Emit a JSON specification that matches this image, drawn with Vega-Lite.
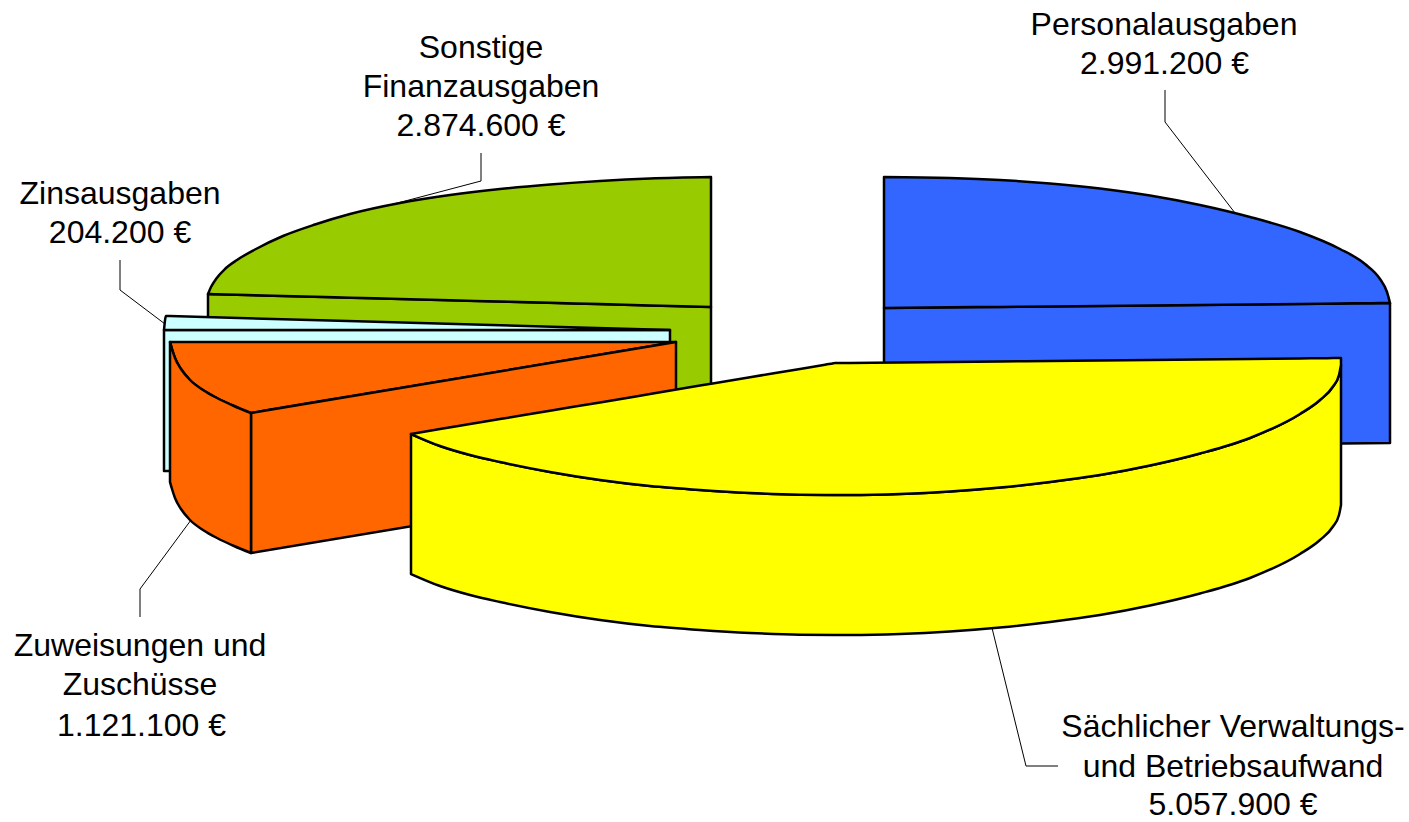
{"$schema":"https://vega.github.io/schema/vega-lite/v6.json","width":1409,"height":822,"padding":0,"autosize":"none","background":"white","config":{"view":{"stroke":null}},
"layer":[
{"data":{"values":[
{"face":"01","s":"Personalausgaben","x":884,"y":308,"y2":448},{"face":"01","s":"Personalausgaben","x":1390,"y":303,"y2":443},
{"face":"02","s":"Personalausgaben","x":884,"y":177,"y2":308},{"face":"02","s":"Personalausgaben","x":950,"y":178,"y2":307.3},{"face":"02","s":"Personalausgaben","x":1000,"y":180,"y2":306.9},{"face":"02","s":"Personalausgaben","x":1050,"y":183.5,"y2":306.4},{"face":"02","s":"Personalausgaben","x":1100,"y":188.5,"y2":305.9},{"face":"02","s":"Personalausgaben","x":1150,"y":195.5,"y2":305.4},{"face":"02","s":"Personalausgaben","x":1200,"y":205,"y2":304.9},{"face":"02","s":"Personalausgaben","x":1250,"y":217,"y2":304.4},{"face":"02","s":"Personalausgaben","x":1300,"y":232,"y2":303.9},{"face":"02","s":"Personalausgaben","x":1340,"y":249,"y2":303.5},{"face":"02","s":"Personalausgaben","x":1365,"y":264,"y2":303.2},{"face":"02","s":"Personalausgaben","x":1380,"y":279,"y2":303.1},{"face":"02","s":"Personalausgaben","x":1387,"y":292,"y2":303},{"face":"02","s":"Personalausgaben","x":1390,"y":303,"y2":303},
{"face":"03","s":"Sonstige Finanzausgaben","x":208,"y":294,"y2":434},{"face":"03","s":"Sonstige Finanzausgaben","x":711,"y":307,"y2":447},
{"face":"04","s":"Sonstige Finanzausgaben","x":208,"y":294,"y2":294},{"face":"04","s":"Sonstige Finanzausgaben","x":211,"y":287,"y2":294.1},{"face":"04","s":"Sonstige Finanzausgaben","x":216,"y":279,"y2":294.2},{"face":"04","s":"Sonstige Finanzausgaben","x":225,"y":269,"y2":294.4},{"face":"04","s":"Sonstige Finanzausgaben","x":237,"y":260,"y2":294.7},{"face":"04","s":"Sonstige Finanzausgaben","x":255,"y":249.5,"y2":295.2},{"face":"04","s":"Sonstige Finanzausgaben","x":283,"y":236,"y2":295.9},{"face":"04","s":"Sonstige Finanzausgaben","x":315,"y":224.5,"y2":296.8},{"face":"04","s":"Sonstige Finanzausgaben","x":350,"y":214,"y2":297.7},{"face":"04","s":"Sonstige Finanzausgaben","x":400,"y":203,"y2":299},{"face":"04","s":"Sonstige Finanzausgaben","x":450,"y":195,"y2":300.3},{"face":"04","s":"Sonstige Finanzausgaben","x":500,"y":189,"y2":301.5},{"face":"04","s":"Sonstige Finanzausgaben","x":550,"y":184.5,"y2":302.8},{"face":"04","s":"Sonstige Finanzausgaben","x":600,"y":181,"y2":304.1},{"face":"04","s":"Sonstige Finanzausgaben","x":650,"y":178.5,"y2":305.4},{"face":"04","s":"Sonstige Finanzausgaben","x":711,"y":177,"y2":307},
{"face":"05","s":"Zinsausgaben","x":164,"y":330,"y2":471},{"face":"05","s":"Zinsausgaben","x":670,"y":330,"y2":471},
{"face":"06","s":"Zinsausgaben","x":164,"y":330,"y2":330},{"face":"06","s":"Zinsausgaben","x":166,"y":316,"y2":330},{"face":"06","s":"Zinsausgaben","x":170,"y":316.1,"y2":330},{"face":"06","s":"Zinsausgaben","x":420,"y":323,"y2":330},{"face":"06","s":"Zinsausgaben","x":670,"y":330,"y2":330},
{"face":"07","s":"Zuweisungen und Zuschüsse","x":170,"y":342,"y2":342},{"face":"07","s":"Zuweisungen und Zuschüsse","x":172,"y":342,"y2":349},{"face":"07","s":"Zuweisungen und Zuschüsse","x":175,"y":342,"y2":358},{"face":"07","s":"Zuweisungen und Zuschüsse","x":181,"y":342,"y2":369},{"face":"07","s":"Zuweisungen und Zuschüsse","x":190,"y":342,"y2":380},{"face":"07","s":"Zuweisungen und Zuschüsse","x":203,"y":342,"y2":390},{"face":"07","s":"Zuweisungen und Zuschüsse","x":217,"y":342,"y2":398},{"face":"07","s":"Zuweisungen und Zuschüsse","x":234,"y":342,"y2":406},{"face":"07","s":"Zuweisungen und Zuschüsse","x":251,"y":342,"y2":413},{"face":"07","s":"Zuweisungen und Zuschüsse","x":256,"y":342,"y2":412.2},{"face":"07","s":"Zuweisungen und Zuschüsse","x":261,"y":342,"y2":411.3},{"face":"07","s":"Zuweisungen und Zuschüsse","x":400,"y":342,"y2":388.1},{"face":"07","s":"Zuweisungen und Zuschüsse","x":676,"y":342,"y2":342},
{"face":"08","s":"Zuweisungen und Zuschüsse","x":251,"y":413,"y2":553},{"face":"08","s":"Zuweisungen und Zuschüsse","x":676,"y":342,"y2":482},
{"face":"09","s":"Zuweisungen und Zuschüsse","x":170,"y":342,"y2":482},{"face":"09","s":"Zuweisungen und Zuschüsse","x":172,"y":349,"y2":489},{"face":"09","s":"Zuweisungen und Zuschüsse","x":175,"y":358,"y2":498},{"face":"09","s":"Zuweisungen und Zuschüsse","x":181,"y":369,"y2":509},{"face":"09","s":"Zuweisungen und Zuschüsse","x":190,"y":380,"y2":520},{"face":"09","s":"Zuweisungen und Zuschüsse","x":203,"y":390,"y2":530},{"face":"09","s":"Zuweisungen und Zuschüsse","x":217,"y":398,"y2":538},{"face":"09","s":"Zuweisungen und Zuschüsse","x":234,"y":406,"y2":546},{"face":"09","s":"Zuweisungen und Zuschüsse","x":251,"y":413,"y2":553},
{"face":"10","s":"Sächlicher Verwaltungs- und Betriebsaufwand","x":411,"y":434,"y2":574},{"face":"10","s":"Sächlicher Verwaltungs- und Betriebsaufwand","x":440,"y":446,"y2":586},{"face":"10","s":"Sächlicher Verwaltungs- und Betriebsaufwand","x":470,"y":455,"y2":595},{"face":"10","s":"Sächlicher Verwaltungs- und Betriebsaufwand","x":500,"y":462,"y2":602},{"face":"10","s":"Sächlicher Verwaltungs- und Betriebsaufwand","x":550,"y":472,"y2":612},{"face":"10","s":"Sächlicher Verwaltungs- und Betriebsaufwand","x":600,"y":480,"y2":620},{"face":"10","s":"Sächlicher Verwaltungs- und Betriebsaufwand","x":650,"y":486,"y2":626},{"face":"10","s":"Sächlicher Verwaltungs- und Betriebsaufwand","x":700,"y":490,"y2":630},{"face":"10","s":"Sächlicher Verwaltungs- und Betriebsaufwand","x":750,"y":493,"y2":633},{"face":"10","s":"Sächlicher Verwaltungs- und Betriebsaufwand","x":800,"y":494.7,"y2":634.7},{"face":"10","s":"Sächlicher Verwaltungs- und Betriebsaufwand","x":850,"y":495,"y2":635},{"face":"10","s":"Sächlicher Verwaltungs- und Betriebsaufwand","x":900,"y":494,"y2":634},{"face":"10","s":"Sächlicher Verwaltungs- und Betriebsaufwand","x":950,"y":491.5,"y2":631.5},{"face":"10","s":"Sächlicher Verwaltungs- und Betriebsaufwand","x":1000,"y":487.5,"y2":627.5},{"face":"10","s":"Sächlicher Verwaltungs- und Betriebsaufwand","x":1050,"y":482,"y2":622},{"face":"10","s":"Sächlicher Verwaltungs- und Betriebsaufwand","x":1100,"y":475,"y2":615},{"face":"10","s":"Sächlicher Verwaltungs- und Betriebsaufwand","x":1150,"y":465.5,"y2":605.5},{"face":"10","s":"Sächlicher Verwaltungs- und Betriebsaufwand","x":1200,"y":453.5,"y2":593.5},{"face":"10","s":"Sächlicher Verwaltungs- und Betriebsaufwand","x":1250,"y":438,"y2":578},{"face":"10","s":"Sächlicher Verwaltungs- und Betriebsaufwand","x":1300,"y":414,"y2":554},{"face":"10","s":"Sächlicher Verwaltungs- und Betriebsaufwand","x":1320,"y":400,"y2":540},{"face":"10","s":"Sächlicher Verwaltungs- und Betriebsaufwand","x":1333,"y":386.5,"y2":526.5},{"face":"10","s":"Sächlicher Verwaltungs- und Betriebsaufwand","x":1339,"y":375,"y2":515},{"face":"10","s":"Sächlicher Verwaltungs- und Betriebsaufwand","x":1341,"y":365,"y2":505},
{"face":"11","s":"Sächlicher Verwaltungs- und Betriebsaufwand","x":411,"y":434,"y2":434},{"face":"11","s":"Sächlicher Verwaltungs- und Betriebsaufwand","x":440,"y":429.1,"y2":446},{"face":"11","s":"Sächlicher Verwaltungs- und Betriebsaufwand","x":470,"y":424.1,"y2":455},{"face":"11","s":"Sächlicher Verwaltungs- und Betriebsaufwand","x":500,"y":419.1,"y2":462},{"face":"11","s":"Sächlicher Verwaltungs- und Betriebsaufwand","x":550,"y":410.7,"y2":472},{"face":"11","s":"Sächlicher Verwaltungs- und Betriebsaufwand","x":600,"y":402.4,"y2":480},{"face":"11","s":"Sächlicher Verwaltungs- und Betriebsaufwand","x":650,"y":394,"y2":486},{"face":"11","s":"Sächlicher Verwaltungs- und Betriebsaufwand","x":700,"y":385.6,"y2":490},{"face":"11","s":"Sächlicher Verwaltungs- und Betriebsaufwand","x":750,"y":377.2,"y2":493},{"face":"11","s":"Sächlicher Verwaltungs- und Betriebsaufwand","x":800,"y":368.9,"y2":494.7},{"face":"11","s":"Sächlicher Verwaltungs- und Betriebsaufwand","x":825,"y":364.7,"y2":494.9},{"face":"11","s":"Sächlicher Verwaltungs- und Betriebsaufwand","x":831,"y":363.7,"y2":494.9},{"face":"11","s":"Sächlicher Verwaltungs- und Betriebsaufwand","x":835,"y":363,"y2":495},{"face":"11","s":"Sächlicher Verwaltungs- und Betriebsaufwand","x":839,"y":363,"y2":495},{"face":"11","s":"Sächlicher Verwaltungs- und Betriebsaufwand","x":850,"y":362.9,"y2":495},{"face":"11","s":"Sächlicher Verwaltungs- und Betriebsaufwand","x":900,"y":362.4,"y2":494},{"face":"11","s":"Sächlicher Verwaltungs- und Betriebsaufwand","x":950,"y":361.9,"y2":491.5},{"face":"11","s":"Sächlicher Verwaltungs- und Betriebsaufwand","x":1000,"y":361.4,"y2":487.5},{"face":"11","s":"Sächlicher Verwaltungs- und Betriebsaufwand","x":1050,"y":360.9,"y2":482},{"face":"11","s":"Sächlicher Verwaltungs- und Betriebsaufwand","x":1100,"y":360.4,"y2":475},{"face":"11","s":"Sächlicher Verwaltungs- und Betriebsaufwand","x":1150,"y":359.9,"y2":465.5},{"face":"11","s":"Sächlicher Verwaltungs- und Betriebsaufwand","x":1200,"y":359.4,"y2":453.5},{"face":"11","s":"Sächlicher Verwaltungs- und Betriebsaufwand","x":1250,"y":358.9,"y2":438},{"face":"11","s":"Sächlicher Verwaltungs- und Betriebsaufwand","x":1300,"y":358.4,"y2":414},{"face":"11","s":"Sächlicher Verwaltungs- und Betriebsaufwand","x":1320,"y":358.2,"y2":400},{"face":"11","s":"Sächlicher Verwaltungs- und Betriebsaufwand","x":1333,"y":358.1,"y2":386.5},{"face":"11","s":"Sächlicher Verwaltungs- und Betriebsaufwand","x":1339,"y":358,"y2":375},{"face":"11","s":"Sächlicher Verwaltungs- und Betriebsaufwand","x":1341,"y":358,"y2":365}
]},
"mark":{"type":"area","stroke":"black","strokeWidth":2.5,"strokeJoin":"round","opacity":1,"interpolate":"monotone"},
"encoding":{"x":{"field":"x","type":"quantitative","axis":null,"scale":{"domain":[0,1409],"nice":false,"zero":false}},"y":{"field":"y","type":"quantitative","axis":null,"scale":{"domain":[822,0],"nice":false,"zero":false}},"y2":{"field":"y2"},"detail":{"field":"face"},"color":{"field":"s","type":"nominal","legend":null,"sort":null,"scale":{"domain":["Personalausgaben","Sonstige Finanzausgaben","Zinsausgaben","Zuweisungen und Zuschüsse","Sächlicher Verwaltungs- und Betriebsaufwand"],"range":["#3366FF","#99CC00","#CCFFFF","#FF6600","#FFFF00"]}}}},
{"data":{"values":[
{"l":"a","o":1,"x":1165,"y":90},{"l":"a","o":2,"x":1165,"y":122},{"l":"a","o":3,"x":1235,"y":213},
{"l":"b","o":1,"x":481,"y":153},{"l":"b","o":2,"x":481,"y":181},{"l":"b","o":3,"x":390,"y":205},
{"l":"c","o":1,"x":120,"y":260},{"l":"c","o":2,"x":120,"y":290},{"l":"c","o":3,"x":165,"y":324},
{"l":"d","o":1,"x":140,"y":617},{"l":"d","o":2,"x":140,"y":589},{"l":"d","o":3,"x":191,"y":520},
{"l":"e","o":1,"x":1058,"y":766},{"l":"e","o":2,"x":1026,"y":766},{"l":"e","o":3,"x":992,"y":628}
]},
"mark":{"type":"line","color":"black","strokeWidth":1},
"encoding":{"x":{"field":"x","type":"quantitative","axis":null,"scale":{"domain":[0,1409],"nice":false,"zero":false}},"y":{"field":"y","type":"quantitative","axis":null,"scale":{"domain":[822,0],"nice":false,"zero":false}},"detail":{"field":"l"},"order":{"field":"o"}}},
{"data":{"values":[
{"t":"Personalausgaben","x":1164,"y":35},{"t":"2.991.200 €","x":1164.5,"y":74},
{"t":"Sonstige","x":481,"y":58},{"t":"Finanzausgaben","x":481,"y":97},{"t":"2.874.600 €","x":481,"y":136},
{"t":"Zinsausgaben","x":120,"y":204},{"t":"204.200 €","x":120,"y":243},
{"t":"Zuweisungen und","x":140,"y":656},{"t":"Zuschüsse","x":140,"y":695},{"t":"1.121.100 €","x":141.5,"y":736},
{"t":"Sächlicher Verwaltungs-","x":1233,"y":737},{"t":"und Betriebsaufwand","x":1233,"y":777},{"t":"5.057.900 €","x":1233,"y":815}
]},
"mark":{"type":"text","font":"Liberation Sans","fontSize":32,"align":"center","baseline":"alphabetic","color":"black"},
"encoding":{"x":{"field":"x","type":"quantitative","axis":null,"scale":{"domain":[0,1409],"nice":false,"zero":false}},"y":{"field":"y","type":"quantitative","axis":null,"scale":{"domain":[822,0],"nice":false,"zero":false}},"text":{"field":"t"}}}
]}
